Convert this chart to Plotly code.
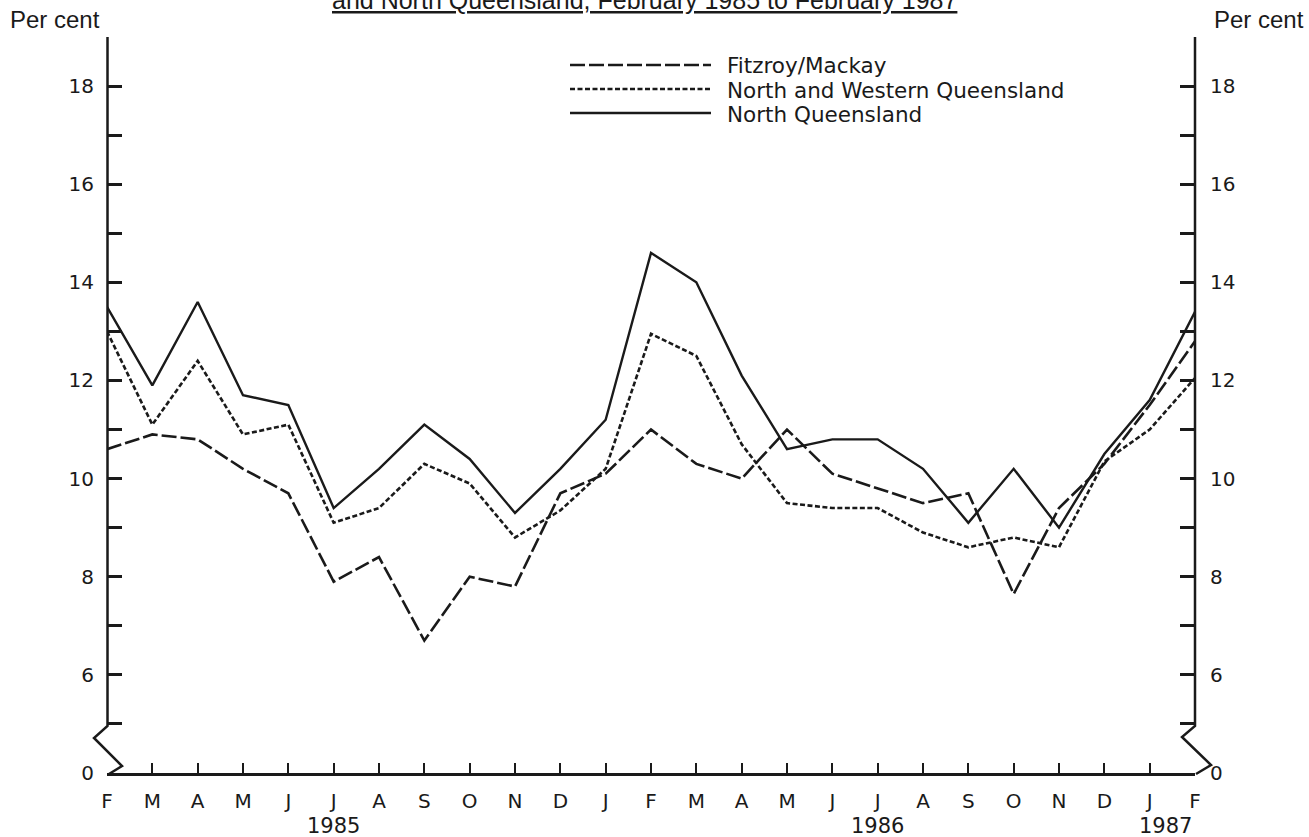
import plotly.graph_objects as go

months = ["F", "M", "A", "M", "J", "J", "A", "S", "O", "N", "D", "J",
          "F", "M", "A", "M", "J", "J", "A", "S", "O", "N", "D", "J", "F"]
x_idx = list(range(len(months)))

north_qld = [13.5, 11.9, 13.6, 11.7, 11.5, 9.4, 10.2, 11.1, 10.4, 9.3, 10.2, 11.2,
             14.6, 14.0, 12.1, 10.6, 10.8, 10.8, 10.2, 9.1, 10.2, 9.0, 10.5, 11.6, 13.4]
fitzroy = [10.6, 10.9, 10.8, 10.2, 9.7, 7.9, 8.4, 6.7, 8.0, 7.8, 9.7, 10.1,
           11.0, 10.3, 10.0, 11.0, 10.1, 9.8, 9.5, 9.7, 7.65, 9.4, 10.3, 11.5, 12.8]
nw_qld = [13.0, 11.1, 12.4, 10.9, 11.1, 9.1, 9.4, 10.3, 9.9, 8.8, 9.35, 10.2,
          12.95, 12.5, 10.7, 9.5, 9.4, 9.4, 8.9, 8.6, 8.8, 8.6, 10.35, 11.0, 12.05]

series_names = ["Fitzroy/Mackay", "North and Western Queensland", "North Queensland"]

year_labels = ["1985", "1986", "1987"]
year_pos = [5, 17, 23.35]

# broken axis: plotted position 4 is labelled "0"
y_tickvals = list(range(4, 20))
y_ticktext = ["0", ""] + [str(v) if v % 2 == 0 else "" for v in range(6, 20)]

INK = "#1a1a1a"
FONT = "DejaVu Sans"
DASHES = ["15px,4px", "5px,2.5px", "solid"]
WIDTHS = [2.6, 2.6, 2.4]

fig = go.Figure()
for name, vals, dash, w in zip(series_names, [fitzroy, nw_qld, north_qld], DASHES, WIDTHS):
    fig.add_trace(go.Scatter(x=x_idx, y=vals, mode="lines", name=name, showlegend=False,
                             line=dict(color=INK, width=w, dash=dash)))
# invisible trace to activate the right axis
fig.add_trace(go.Scatter(x=[0], y=[10], yaxis="y2", mode="lines", showlegend=False,
                         line=dict(width=0), hoverinfo="skip"))

L, R, T, B = 107, 1195, 37, 773
W, H = 1309, 837

def px(xp):
    return (xp - L) / (R - L)

def py(yp):
    return (B - yp) / (B - T)

shapes = []
# left axis line and zigzag break
shapes.append(dict(type="path", xref="paper", yref="paper",
                   path=f"M {px(107.5)} {py(37)} L {px(107.5)} {py(726)} L {px(94)} {py(738)} L {px(122)} {py(766)} L {px(109)} {py(774)}",
                   line=dict(color=INK, width=2.5)))
# right axis line and zigzag break
shapes.append(dict(type="path", xref="paper", yref="paper",
                   path=f"M {px(1195)} {py(37)} L {px(1195)} {py(726)} L {px(1182)} {py(737)} L {px(1211)} {py(765)} L {px(1196)} {py(774)}",
                   line=dict(color=INK, width=2.5)))

annotations = []
# legend (drawn by hand to match the long sample lines)
leg_y = [65, 89, 113]
for name, dash, w, yy in zip(series_names, DASHES, WIDTHS, leg_y):
    shapes.append(dict(type="line", xref="paper", yref="paper",
                       x0=px(570), x1=px(711), y0=py(yy), y1=py(yy),
                       line=dict(color=INK, width=w, dash=dash)))
    annotations.append(dict(x=px(725), y=py(yy + 1), xref="paper", yref="paper", text=name,
                            showarrow=False, xanchor="left", yanchor="middle",
                            font=dict(family=FONT, size=21.5, color=INK)))

for t, xv in zip(year_labels, year_pos):
    annotations.append(dict(x=xv, y=py(826), xref="x", yref="paper", text=t,
                            showarrow=False, font=dict(family=FONT, size=21, color=INK),
                            xanchor="center", yanchor="middle"))
annotations.append(dict(x=px(8), y=py(20), xref="paper", yref="paper", text="Per cent",
                        showarrow=False, xanchor="left", yanchor="middle",
                        font=dict(family="Liberation Sans", size=24, color=INK)))
annotations.append(dict(x=px(1306), y=py(20), xref="paper", yref="paper", text="Per cent",
                        showarrow=False, xanchor="right", yanchor="middle",
                        font=dict(family="Liberation Sans", size=24, color=INK)))
annotations.append(dict(x=px(644), y=py(0), xref="paper", yref="paper",
                        text="<u>and North Queensland, February 1985 to February 1987</u>",
                        showarrow=False, xanchor="center", yanchor="middle",
                        font=dict(family="Liberation Sans", size=25, color=INK)))

fig.update_layout(
    width=W, height=H,
    margin=dict(l=L, r=W - R, t=T, b=H - B),
    paper_bgcolor="white", plot_bgcolor="white",
    showlegend=False,
    xaxis=dict(range=[0, 24], tickmode="array", tickvals=x_idx, ticktext=months,
               ticks="", showgrid=False, zeroline=False,
               showline=True, linecolor=INK, linewidth=2.5,
               tickfont=dict(family=FONT, size=20, color=INK),
               ticklabelstandoff=8,
               minor=dict(tickmode="array", tickvals=list(range(1, 24)), ticks="inside",
                          ticklen=10, tickwidth=2, tickcolor=INK, showgrid=False)),
    yaxis=dict(range=[4, 19], tickmode="array", tickvals=y_tickvals, ticktext=y_ticktext,
               ticks="inside", ticklen=15, tickwidth=2.5, tickcolor=INK,
               showgrid=False, zeroline=False, showline=False,
               tickfont=dict(family=FONT, size=20, color=INK), ticklabelstandoff=12),
    yaxis2=dict(range=[4, 19], tickmode="array", tickvals=y_tickvals, ticktext=y_ticktext,
                overlaying="y", side="right",
                ticks="inside", ticklen=15, tickwidth=2.5, tickcolor=INK,
                showgrid=False, zeroline=False, showline=False,
                tickfont=dict(family=FONT, size=20, color=INK), ticklabelstandoff=14),
)
fig.update_layout(shapes=shapes, annotations=annotations)

fig.write_html("out.html", config={"displayModeBar": False},
               post_script="document.body.style.margin='0px';document.body.style.overflow='hidden';")
